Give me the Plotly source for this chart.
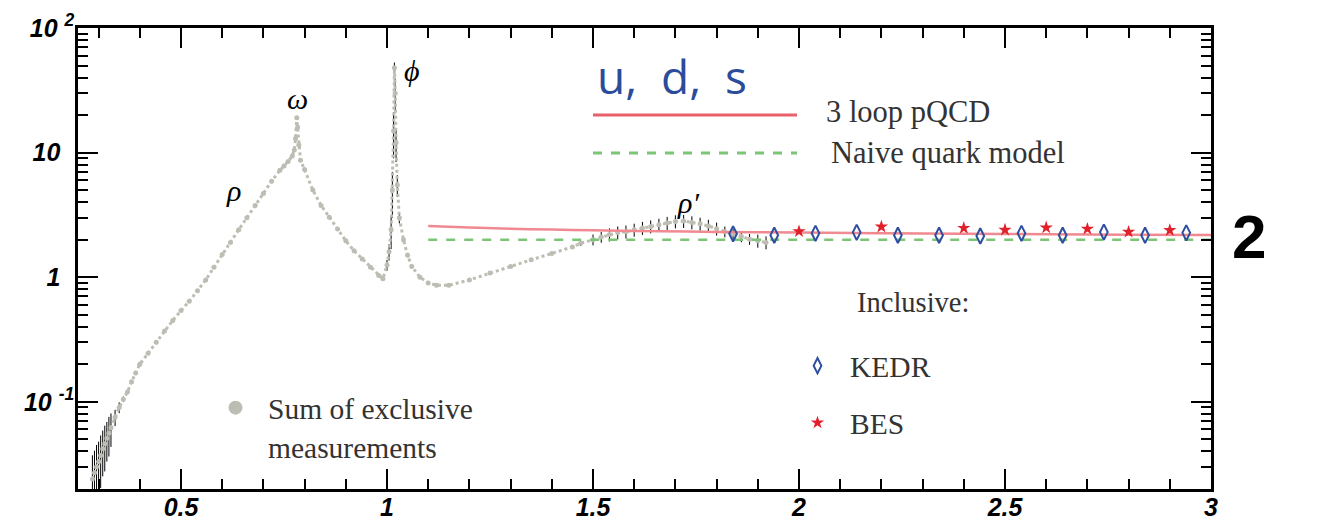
import numpy as np
import plotly.graph_objects as go

# ---------------- data ----------------
# Sum of exclusive measurements (R ratio)
excl_x = [0.285, 0.29, 0.295, 0.30, 0.305, 0.31, 0.315, 0.32, 0.325, 0.33, 0.34, 0.35, 0.36, 0.37, 0.38, 0.39,
          0.40, 0.42, 0.44, 0.46, 0.48, 0.50, 0.52, 0.54, 0.56, 0.58, 0.60, 0.62, 0.64, 0.66, 0.68,
          0.70, 0.72, 0.74, 0.75, 0.76, 0.77, 0.775, 0.778, 0.781, 0.783, 0.786, 0.79, 0.80, 0.82,
          0.84, 0.86, 0.88, 0.90, 0.92, 0.94, 0.96, 0.98, 0.99, 1.00, 1.005, 1.01, 1.013, 1.016,
          1.018, 1.020, 1.022, 1.025, 1.03, 1.04, 1.05, 1.06, 1.08, 1.10, 1.12, 1.15, 1.20, 1.25,
          1.30, 1.35, 1.40, 1.45, 1.47, 1.50, 1.52, 1.54, 1.56, 1.58, 1.60, 1.62, 1.64, 1.66, 1.68,
          1.70, 1.72, 1.74, 1.76, 1.78, 1.80, 1.82, 1.84, 1.86, 1.88, 1.90, 1.92]
excl_y = [0.024, 0.027, 0.030, 0.033, 0.037, 0.042, 0.046, 0.051, 0.056, 0.062, 0.075, 0.090, 0.105, 0.12, 0.145, 0.17,
          0.20, 0.245, 0.30, 0.37, 0.45, 0.54, 0.64, 0.78, 0.95, 1.20, 1.52, 1.90, 2.40, 3.00, 3.76,
          4.70, 5.90, 7.20, 7.80, 8.50, 9.40, 10.5, 13.0, 19.0, 16.0, 11.5, 8.70, 7.30, 5.00,
          3.77, 3.03, 2.44, 1.96, 1.63, 1.40, 1.20, 1.03, 0.97, 1.25, 1.60, 2.40, 5.0, 15.0,
          48.0, 30.0, 12.0, 5.5, 3.0, 2.0, 1.5, 1.22, 1.00, 0.90, 0.86, 0.86, 0.95, 1.08,
          1.22, 1.38, 1.55, 1.75, 1.87, 2.00, 2.10, 2.20, 2.28, 2.32, 2.40, 2.48, 2.55, 2.63, 2.72,
          2.80, 2.82, 2.75, 2.68, 2.58, 2.45, 2.32, 2.22, 2.12, 2.02, 1.96, 1.90]
excl_rel_err = [0.55, 0.5, 0.5, 0.45, 0.45, 0.4, 0.4, 0.35, 0.35, 0.3, 0.15, 0.1, 0.05, 0, 0, 0,
                0, 0, 0, 0, 0, 0, 0, 0, 0, 0, 0, 0, 0, 0, 0,
                0, 0, 0, 0, 0, 0, 0, 0, 0, 0, 0, 0, 0, 0,
                0, 0, 0, 0, 0, 0, 0, 0, 0, 0.1, 0.15, 0.3, 0.4, 0.4,
                0.1, 0.3, 0.3, 0.2, 0.1, 0, 0, 0, 0, 0, 0, 0, 0, 0,
                0, 0, 0, 0, 0.05, 0.1, 0.1, 0.12, 0.12, 0.12, 0.12, 0.12, 0.12, 0.12, 0.12,
                0.12, 0.12, 0.12, 0.12, 0.12, 0.12, 0.1, 0.1, 0.1, 0.1, 0.12, 0.12]

# 3-loop pQCD prediction
pqcd_x = [1.1, 1.2, 1.3, 1.4, 1.5, 1.6, 1.8, 2.0, 2.2, 2.5, 2.8, 3.0]
pqcd_y = [2.57, 2.50, 2.45, 2.41, 2.38, 2.35, 2.31, 2.28, 2.25, 2.22, 2.19, 2.18]

# Naive quark model
naive_x = [1.1, 3.0]
naive_y = [2.0, 2.0]

# KEDR inclusive
kedr_x = [1.84, 1.94, 2.04, 2.14, 2.24, 2.34, 2.44, 2.54, 2.64, 2.74, 2.84, 2.94]
kedr_y = [2.23, 2.17, 2.25, 2.29, 2.17, 2.17, 2.14, 2.25, 2.17, 2.30, 2.17, 2.27]

# BES inclusive
bes_x = [2.0, 2.2, 2.4, 2.5, 2.6, 2.7, 2.8, 2.9]
bes_y = [2.33, 2.54, 2.48, 2.40, 2.50, 2.44, 2.31, 2.38]

x_tickvals = [0.5, 1, 1.5, 2, 2.5, 3]
x_ticktext = ["0.5", "1", "1.5", "2", "2.5", "3"]
y_tickvals = [0.1, 1, 10, 100]
# figure-space padding keeps the plain labels aligned with the base "10" of the power labels
y_ticktext = ["10 <sup>-1</sup>", "1\u2007", "10\u2007", "10 <sup>2</sup>"]
y_minorvals = [m * 10.0 ** e for e in (-2, -1, 0, 1) for m in range(2, 10)]

SERIF = "Liberation Serif"
GRAY = "#bdbdb3"

fig = go.Figure()

excl_err = [y * r for y, r in zip(excl_y, excl_rel_err)]
fig.add_trace(go.Scatter(
    x=excl_x, y=excl_y, mode="lines+markers",
    line=dict(color=GRAY, width=3, dash="dot"),
    marker=dict(color=GRAY, size=5),
    error_y=dict(type="data", array=excl_err, color="black", thickness=1, width=0),
    showlegend=False, hoverinfo="x+y"))

fig.add_trace(go.Scatter(x=pqcd_x, y=pqcd_y, mode="lines", line=dict(color="#f08a90", width=2.5),
                         showlegend=False, line_shape="spline"))
fig.add_trace(go.Scatter(x=naive_x, y=naive_y, mode="lines", line=dict(color="#7cc576", width=2.5, dash="dash"),
                         showlegend=False))

fig.add_trace(go.Scatter(x=kedr_x, y=kedr_y, mode="markers", name="KEDR",
                         marker=dict(symbol="diamond-tall-open", size=11, color="#2e4fa0", line=dict(width=2)),
                         legend="legend"))
fig.add_trace(go.Scatter(x=bes_x, y=bes_y, mode="markers", name="BES",
                         marker=dict(symbol="star", size=10, color="#e0202a"),
                         legend="legend2"))
fig.add_trace(go.Scatter(x=[None], y=[None], mode="markers", name="Sum of exclusive<br>measurements",
                         marker=dict(symbol="circle", size=14, color=GRAY),
                         legend="legend3"))

# page body has an 8px margin: the figure is laid out relative to that offset
OFF = 8
W, H = 1325 - OFF, 524 - OFF
L, T = 78 - OFF, 28 - OFF
pw, ph = 1211 - 78, 489 - 28
R, B = W - L - pw, H - T - ph


def px(xs):
    return (xs - OFF - L) / pw


def py(ys):
    return (H - B - (ys - OFF)) / ph


legfont = dict(family=SERIF, size=29.5, color="#333333")
common_leg = dict(bgcolor="rgba(0,0,0,0)", font=legfont, itemsizing="trace", xanchor="left", yanchor="middle",
                  itemwidth=55)
fig.update_layout(
    width=W, height=H,
    margin=dict(l=L, r=R, t=T, b=B, autoexpand=False),
    paper_bgcolor="white", plot_bgcolor="white",
    legend=dict(x=px(785), y=py(366), **common_leg),
    legend2=dict(x=px(785), y=py(423), **common_leg),
    legend3=dict(x=px(203), y=py(427), valign="top", **common_leg),
)

axfont = dict(family="Liberation Sans", size=25, color="black", weight="bold", style="italic")
fig.update_xaxes(
    range=[0.25, 3.0], showline=True, linecolor="black", linewidth=2.5, mirror="ticks",
    ticks="inside", ticklen=20, tickwidth=1.5, tickcolor="black", automargin=False,
    tickvals=x_tickvals, ticktext=x_ticktext, tickfont=axfont, ticklabelstandoff=-6,
    minor=dict(ticks="inside", ticklen=10, tickwidth=1.5, tickcolor="black", dtick=0.1, tick0=0),
    showgrid=False, zeroline=False)
fig.update_yaxes(
    type="log", range=[-1.70, 2.0], showline=True, linecolor="black", linewidth=2.5, mirror="ticks",
    ticks="inside", ticklen=20, tickwidth=1.5, tickcolor="black", automargin=False,
    tickvals=y_tickvals, ticktext=y_ticktext, tickfont=axfont, ticklabelstandoff=-4,
    minor=dict(ticks="inside", ticklen=10, tickwidth=1.5, tickcolor="black", tickmode="array",
               tickvals=y_minorvals),
    showgrid=False, zeroline=False)

# legend sample lines for the theory curves
fig.add_shape(type="line", xref="paper", yref="paper", x0=px(593), x1=px(797), y0=py(115), y1=py(115),
              line=dict(color="#e8606a", width=3))
fig.add_shape(type="line", xref="paper", yref="paper", x0=px(593), x1=px(797), y0=py(153), y1=py(153),
              line=dict(color="#7cc576", width=3, dash="dash"))

ann = [
    dict(text="u,  d,  s", x=px(595), y=py(76), font=dict(family="Open Sans", size=46, color="#2b4b9b")),
    dict(text="3 loop pQCD", x=px(824), y=py(112), font=dict(family=SERIF, size=30.5, color="#333333")),
    dict(text="Naive quark model", x=px(829), y=py(153), font=dict(family=SERIF, size=30.5, color="#333333")),
    dict(text="Inclusive:", x=px(855), y=py(302), font=dict(family=SERIF, size=28.5, color="#333333")),
    dict(text="2", x=px(1230), y=py(236), font=dict(family="Liberation Sans", size=62, color="black", weight="bold")),
]
for a in ann:
    fig.add_annotation(xref="paper", yref="paper", xanchor="left", yanchor="middle", showarrow=False, **a)

greek = [("<i>ρ</i>", 0.627, 5.0), ("<i>ω</i>", 0.782, 27.0), ("<i>ϕ</i>", 1.06, 46.0), ("<i>ρ′</i>", 1.73, 4.0)]
for t, gx, gy in greek:
    fig.add_annotation(x=gx, y=np.log10(gy), xref="x", yref="y", text=t, showarrow=False,
                       font=dict(family=SERIF, size=30, color="black"))

fig.write_html("out.html")
